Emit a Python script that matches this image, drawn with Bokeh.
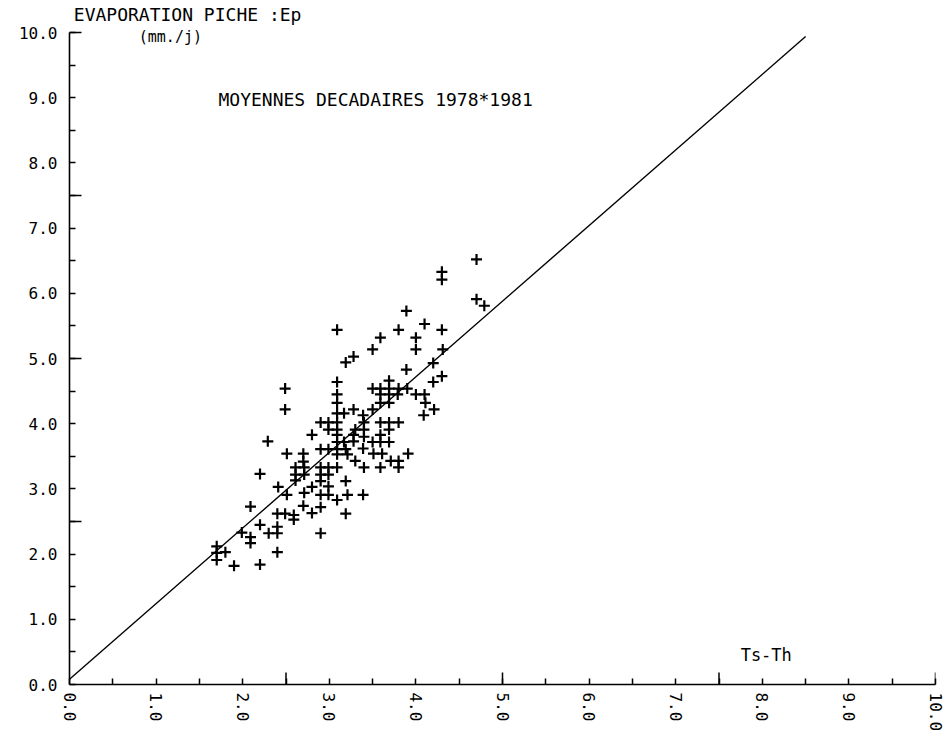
import math
from bokeh.plotting import figure
from bokeh.models import Range1d, FixedTicker, PrintfTickFormatter, Label
from bokeh.embed import file_html
from bokeh.resources import INLINE

# ---- data ----
ts_th = [4.70, 4.30, 4.30, 4.70, 4.79, 3.89, 3.09, 3.80, 4.10, 4.30, 3.59, 4.00, 3.50, 4.00, 4.31,
         3.28, 3.19, 4.20, 3.89, 4.30, 3.09, 3.69, 4.20,
         2.49, 3.50, 3.59, 3.69, 3.80, 3.90,
         3.09, 3.59, 3.69, 3.79, 4.00, 4.10,
         3.09, 3.59, 3.69, 4.11,
         2.49, 3.28, 3.50, 4.21,
         3.09, 3.17, 3.39, 4.09,
         2.90, 2.99, 3.09, 3.40, 3.59, 3.69, 3.80,
         2.99, 3.09, 3.30, 3.40, 3.69,
         2.80, 3.09, 3.28, 3.40, 3.59,
         2.29,
         3.09, 3.17, 3.28, 3.50, 3.59, 3.69,
         2.90, 2.99, 3.09, 3.19, 3.39,
         2.51, 2.70, 3.09, 3.21, 3.51, 3.61, 3.91,
         2.70, 3.30, 3.71, 3.80,
         2.61, 2.71, 2.90, 2.99, 3.09, 3.40, 3.59, 3.80,
         2.20, 2.61, 2.71, 2.90, 2.99,
         2.61, 2.90, 3.19,
         2.41, 2.80, 2.99,
         2.51, 2.71, 2.90, 2.99, 3.21, 3.39,
         3.09,
         2.09, 2.70, 2.90, 2.80,
         2.40, 2.49, 2.59, 3.19,
         2.59, 2.20, 2.40,
         2.30, 2.40, 1.99, 2.09, 2.09, 2.90,
         1.70, 1.70, 1.70, 1.80, 2.40, 1.90, 2.20]
ep = [6.52, 6.33, 6.21, 5.91, 5.81, 5.73, 5.44, 5.44, 5.53, 5.44, 5.32, 5.32, 5.14, 5.14, 5.14,
      5.03, 4.94, 4.93, 4.83, 4.73, 4.64, 4.66, 4.64,
      4.54, 4.54, 4.54, 4.54, 4.54, 4.54,
      4.45, 4.45, 4.45, 4.45, 4.45, 4.45,
      4.32, 4.32, 4.32, 4.32,
      4.22, 4.22, 4.22, 4.22,
      4.16, 4.16, 4.13, 4.13,
      4.02, 4.02, 4.02, 4.02, 4.02, 4.02, 4.02,
      3.91, 3.91, 3.91, 3.91, 3.91,
      3.83, 3.83, 3.83, 3.80, 3.83,
      3.73,
      3.72, 3.72, 3.73, 3.72, 3.72, 3.72,
      3.61, 3.61, 3.61, 3.61, 3.62,
      3.54, 3.54, 3.53, 3.53, 3.54, 3.54, 3.54,
      3.42, 3.43, 3.43, 3.43,
      3.33, 3.33, 3.33, 3.33, 3.33, 3.33, 3.33, 3.33,
      3.23, 3.22, 3.22, 3.22, 3.22,
      3.13, 3.12, 3.12,
      3.03, 3.03, 3.04,
      2.91, 2.94, 2.91, 2.91, 2.91, 2.91,
      2.83,
      2.73, 2.74, 2.72, 2.63,
      2.62, 2.62, 2.60, 2.62,
      2.53, 2.45, 2.42,
      2.32, 2.32, 2.33, 2.26, 2.17, 2.32,
      2.12, 2.02, 1.91, 2.03, 2.03, 1.82, 1.84]

fit_slope = 1.16
fit_intercept = 0.08
fit_x = [0.0, 8.5]

major_ticks = [0.0, 1.0, 2.0, 3.0, 4.0, 5.0, 6.0, 7.0, 8.0, 9.0, 10.0]
minor_ticks = [0.5, 1.5, 2.5, 3.5, 4.5, 5.5, 6.5, 7.5, 8.5, 9.5]
long_ticks = [2.5, 5.0, 7.5, 10.0]

FONT = "DejaVu Sans Mono"

p = figure(width=951, height=734, output_backend="svg", toolbar_location=None,
           x_range=Range1d(0, 10), y_range=Range1d(0, 10.4),
           min_border_left=69, min_border_right=16, min_border_top=6, min_border_bottom=49)
p.outline_line_color = None
p.grid.visible = False
p.background_fill_color = "white"
p.border_fill_color = "white"

for ax in (p.xaxis[0], p.yaxis[0]):
    ax.ticker = FixedTicker(ticks=major_ticks, minor_ticks=minor_ticks)
    ax.formatter = PrintfTickFormatter(format="%.1f")
    ax.bounds = (0, 10)
    ax.axis_line_color = "black"
    ax.axis_line_width = 1.6
    ax.major_tick_in = 6
    ax.major_tick_out = 0
    ax.minor_tick_in = 6
    ax.minor_tick_out = 0
    ax.major_tick_line_width = 1.5
    ax.minor_tick_line_width = 1.5
    ax.major_tick_line_color = "black"
    ax.minor_tick_line_color = "black"
    ax.major_label_text_font = FONT
    ax.major_label_text_font_size = "16px"
    ax.major_label_text_color = "black"

p.yaxis.major_label_standoff = 12
p.xaxis.major_label_standoff = 8
p.xaxis.major_label_orientation = -math.pi / 2

# longer ticks every 2.5
p.ray(x=0, y=long_ticks, length=12, length_units="screen", angle=0,
      line_color="black", line_width=1.5)
p.ray(x=long_ticks, y=0, length=12, length_units="screen", angle=math.pi / 2,
      line_color="black", line_width=1.5)

# fitted line
fit_y = [fit_intercept + fit_slope * v for v in fit_x]
p.line(fit_x, fit_y, line_color="black", line_width=1.4)

# points
p.scatter(ts_th, ep, marker="cross", size=11, line_width=2.2, line_color="black")

p.add_layout(Label(x=0.05, y=10.12, text="EVAPORATION PICHE :Ep", text_font=FONT,
                   text_font_size="18px", text_color="black"))
p.add_layout(Label(x=0.8, y=9.8, text="(mm./j)", text_font=FONT,
                   text_font_size="15px", text_color="black"))
p.add_layout(Label(x=1.72, y=8.98, text="MOYENNES DECADAIRES   1978*1981", text_font=FONT,
                   text_font_size="18px", text_color="black", text_baseline="middle"))
p.add_layout(Label(x=7.75, y=0.46, text="Ts-Th", text_font=FONT,
                   text_font_size="17px", text_color="black", text_baseline="middle"))

open("out.html", "w").write(file_html(p, INLINE))
